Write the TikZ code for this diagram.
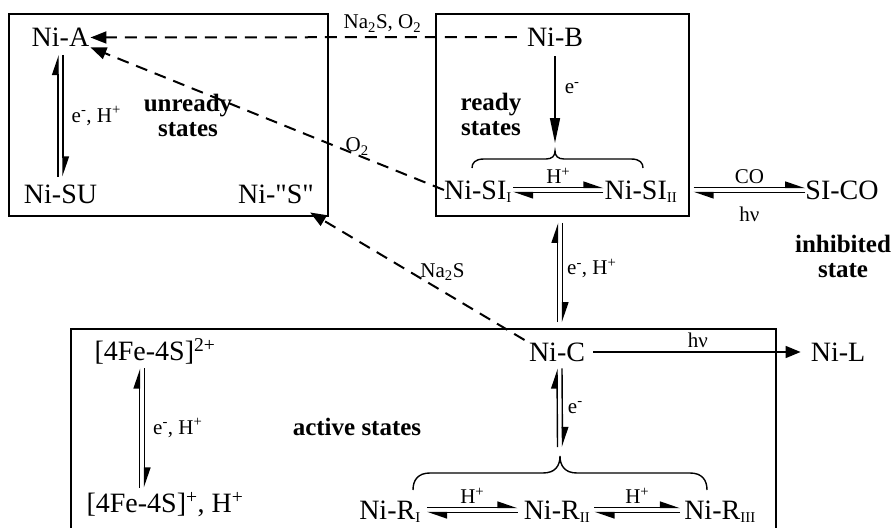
\documentclass[tikz,border=0pt]{standalone}
\usepackage{fontspec}
\setmainfont{Liberation Serif}
\newfontfamily\rawserif{Liberation Serif}
\usetikzlibrary{arrows.meta,calc}

\newcommand{\statefont}{\fontsize{28}{30}\selectfont}
\newcommand{\labfont}{\fontsize{21}{23}\selectfont}
\newcommand{\tagfont}{\fontsize{25}{25}\selectfont\bfseries}
\newcommand{\rsub}[1]{\textsubscript{\fontsize{15}{15}\selectfont #1}}
\newcommand{\eqh}[3][]{%
  \draw[eqhalf,#1] ([yshift=2.5pt]#2) -- ([yshift=2.5pt]#3);
  \draw[eqhalf,#1] ([yshift=-2.5pt]#3) -- ([yshift=-2.5pt]#2);}
\newcommand{\eqv}[3][]{%
  \draw[eqhalf,#1] ([xshift=2.5pt]#2) -- ([xshift=2.5pt]#3);
  \draw[eqhalf,#1] ([xshift=-2.5pt]#3) -- ([xshift=-2.5pt]#2);}

\begin{document}
\begin{tikzpicture}[x=1pt, y=-1pt,
  state/.style={font=\statefont, inner sep=0pt, text height=18.5pt, text depth=0pt},
  lab/.style={font=\labfont, inner sep=1pt},
  tag/.style={font=\tagfont, align=center, inner sep=0pt},
  stbox/.style={draw, line width=1.6pt, inner sep=0pt},
  eqhalf/.style={line width=1.4pt, -{Triangle[left,length=18pt,width=12pt]}},
  rxn/.style={line width=1.6pt, -{Triangle[length=15pt,width=12pt]}},
  oxid/.style={line width=2pt, dash pattern=on 12pt off 8pt, -{Triangle[length=16pt,width=12pt]}},
  grp/.style={line width=1.4pt}]
\useasboundingbox (0,0) rectangle (893,527);

% boxes
\node[stbox, minimum width=319pt, minimum height=202pt] (unreadybox) at (168.5,115) {};
\node[stbox, minimum width=253pt, minimum height=202pt] (readybox) at (562.5,115) {};
\node[stbox, minimum width=705pt, minimum height=216pt] (activebox) at (423.5,437) {};

% states
\node[state] (nia) at (60.5,37.5) {Ni-A};
\node[state] (nisu) at (60.5,194) {Ni-SU};
\node[state] (nis) at (276,194) {Ni-{\rawserif"}S{\rawserif"}};
\node[state] (nib) at (555,37) {Ni-B};
\node[state] (nisi1) at (478,190) {Ni-SI\rsub{I}};
\node[state] (nisi2) at (641,190) {Ni-SI\rsub{II}};
\node[state] (sico) at (842,190) {SI-CO};
\node[state] (nic) at (557,352) {Ni-C};
\node[state] (nil) at (838,352) {Ni-L};
\node[state] (fe2) at (155,351) {[4Fe-4S]\textsuperscript{2+}};
\node[state] (fe1) at (165,503) {[4Fe-4S]\textsuperscript{+}, H\textsuperscript{+}};
\node[state] (nir1) at (390,510) {Ni-R\rsub{I}};
\node[state] (nir2) at (557,510) {Ni-R\rsub{II}};
\node[state] (nir3) at (720,510) {Ni-R\rsub{III}};

\node[tag] (unreadytag) at (188,115) {unready\\states};
\node[tag] (readytag) at (491,114) {ready\\states};
\node[tag] (inhibtag) at (843,256) {inhibited\\state};
\node[tag] (activetag) at (357,427) {active states};

% braces
\coordinate (sitip) at (555,151);
\coordinate (rtip) at (560,456);
\draw[grp] (472,168) .. controls (472,163) and (475,159) .. (484,159)
  -- (546,159) .. controls (552,159) and (555,156) .. (sitip)
  .. controls (555,156) and (558,159) .. (564,159)
  -- (631,159) .. controls (640,159) and (643,163) .. (643,168);
\draw[grp] (413,490) .. controls (413,480) and (418,473) .. (430,473)
  -- (543,473) .. controls (555,473) and (560,466) .. (rtip)
  .. controls (560,466) and (565,473) .. (577,473)
  -- (690,473) .. controls (702,473) and (707,480) .. (707,490);

% reactions
\draw[oxid, shorten <=10pt, shorten >=1pt] (nib.west) -- (nia.east)
  node[lab, pos=.33, above=3pt] (naolab) {Na\textsubscript{2}S, O\textsubscript{2}};
\draw[oxid, shorten >=1pt] (nisi1.west) -- (nia.south east)
  node[lab, pos=.28, anchor=base west, inner sep=0pt, yshift=-2pt] (o2lab) {O\textsubscript{2}};
\draw[oxid, shorten <=5pt] (nic.north west) -- ([xshift=-4pt,yshift=-9pt]nis.south east)
  node[lab, pos=.5, anchor=base west, inner sep=0pt] (nalab) {Na\textsubscript{2}S};
\draw[rxn, -{Triangle[length=25pt,width=10pt]}, shorten <=10pt, shorten >=8pt] (nib.south) -- (sitip)
  node[lab, pos=.4, right=8pt] (elab1) {e\textsuperscript{-}};
\draw[rxn, shorten <=8pt, shorten >=10pt] (nic.east) -- (nil.west)
  node[lab, midway, above=2pt] (hvlab1) {hν};

% equilibria
\coordinate (a1) at ($(nia.south)+(0,8)$);
\coordinate (a2) at ($(nisu.north)+(0,-8)$);
\eqv{a1}{a2}
\node[lab, anchor=west] (elab2) at ($(a1)!.5!(a2)+(10,0)$) {e\textsuperscript{-}, H\textsuperscript{+}};

\eqh[shorten <=1pt, shorten >=1pt]{nisi1.east}{nisi2.west}
\node[lab, above=5pt] (hlab1) at ($(nisi1.east)!.5!(nisi2.west)$) {H\textsuperscript{+}};

\coordinate (co1) at ($(nisi2.east)+(16,0)$);
\eqh{co1}{sico.west}
\node[lab, above=5pt] (colab) at ($(co1)!.5!(sico.west)$) {CO};
\node[lab, below=16pt] (hvlab2) at ($(co1)!.5!(sico.west)$) {hν};

\coordinate (b1) at ($(readybox.south -| nic.north)+(3,6)$);
\coordinate (b2) at ($(activebox.north -| nic.north)+(3,-6)$);
\eqv{b1}{b2}
\node[lab, anchor=west] (elab3) at ($(b1)!.5!(b2)+(6,-4)$) {e\textsuperscript{-}, H\textsuperscript{+}};

\coordinate (c1) at ($(nic.south)+(2.5,7)$);
\coordinate (c2) at ($(rtip)+(0,-9)$);
\eqv{c1}{c2}
\node[lab, anchor=west] (elab4) at ($(c1)!.5!(c2)+(7,0)$) {e\textsuperscript{-}};

\coordinate (d1) at ($(fe2.south)+(-13,8)$);
\coordinate (d2) at ($(fe1.north)+(-23,-6)$);
\eqv{d1}{d2}
\node[lab, anchor=west] (elab5) at ($(d1)!.5!(d2)+(10,0)$) {e\textsuperscript{-}, H\textsuperscript{+}};

\eqh[shorten <=6pt, shorten >=6pt]{nir1.east}{nir2.west}
\node[lab, above=5pt] (hlab2) at ($(nir1.east)!.5!(nir2.west)$) {H\textsuperscript{+}};
\eqh[shorten <=4pt, shorten >=4pt]{nir2.east}{nir3.west}
\node[lab, above=5pt] (hlab3) at ($(nir2.east)!.5!(nir3.west)$) {H\textsuperscript{+}};
\end{tikzpicture}
\end{document}
